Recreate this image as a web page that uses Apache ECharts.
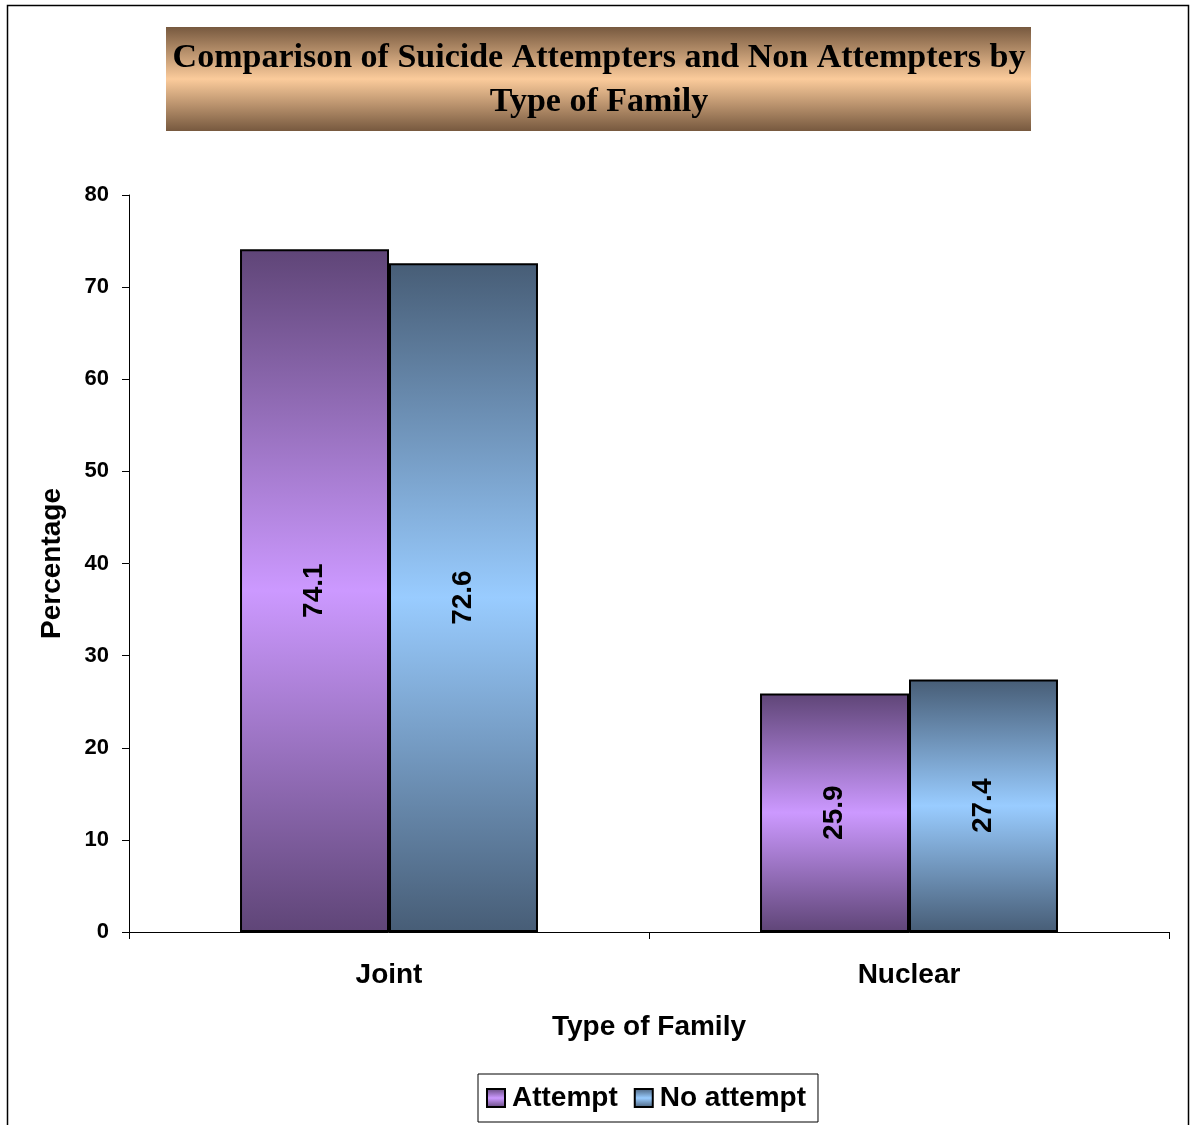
<!DOCTYPE html>
<html><head><meta charset="utf-8">
<script src="https://cdn.jsdelivr.net/npm/echarts@6/dist/echarts.min.js"></script>
<style>html,body{margin:0;padding:0;background:#fff}#c{width:1191px;height:1125px}</style>
</head><body><div id="c"></div>
<script>
const categories = ['Joint', 'Nuclear'];
const attempt = [74.1, 25.9];
const noAttempt = [72.6, 27.4];
const yTicks = [0, 10, 20, 30, 40, 50, 60, 70, 80];

function grad(dark, light) {
  return new echarts.graphic.LinearGradient(0, 0, 0, 1, [
    {offset: 0, color: dark}, {offset: 0.5, color: light}, {offset: 1, color: dark}
  ]);
}
const purple = grad('#5f4577', '#cc99ff');
const blue = grad('#475d76', '#99ccff');
const SANS = '"Liberation Sans", Arial, sans-serif';

const chart = echarts.init(document.getElementById('c'));
const labelStyle = {
  show: true, position: 'inside', rotate: 90, color: '#000',
  fontFamily: SANS, fontWeight: 'bold', fontSize: 28,
  formatter: p => p.value.toFixed(1)
};
chart.setOption({
  animation: false,
  graphic: [
    {type: 'rect', shape: {x: 7.5, y: 5.5, width: 1181, height: 1130}, style: {fill: 'none', stroke: '#000', lineWidth: 1.5}, z: -1},
    {type: 'rect', shape: {x: 166, y: 27, width: 865, height: 104},
      style: {fill: new echarts.graphic.LinearGradient(0, 0, 0, 1, [
        {offset: 0, color: '#77593f'}, {offset: 0.5, color: '#fbcb9b'}, {offset: 1, color: '#77593f'}])}, z: -1},
    {type: 'text', x: 599, y: 80, style: {text: 'Comparison of Suicide Attempters and Non Attempters by\nType of Family',
      fill: '#000', font: 'bold 34px "Liberation Serif", "Times New Roman", serif', align: 'center', verticalAlign: 'middle', lineHeight: 44}}
  ],
  legend: {
    left: 478, top: 1074,
    padding: [10, 12, 10, 8],
    borderColor: '#000', borderWidth: 1,
    itemWidth: 18, itemHeight: 18, itemGap: 16,
    textStyle: {fontFamily: SANS, fontWeight: 'bold', fontSize: 28, color: '#000', padding: [0, 0, 0, 2]},
    icon: 'rect',
    itemStyle: {borderColor: '#000', borderWidth: 2},
    data: ['Attempt', 'No attempt']
  },
  grid: {left: 129, right: 22, top: 195, bottom: 193},
  xAxis: {
    type: 'category', data: categories,
    name: 'Type of Family', nameLocation: 'middle', nameGap: 81,
    nameTextStyle: {fontFamily: SANS, fontWeight: 'bold', fontSize: 28, color: '#000'},
    axisLine: {lineStyle: {color: '#000', width: 1}},
    axisTick: {show: true, length: 7, lineStyle: {color: '#000'}},
    axisLabel: {margin: 29, fontFamily: SANS, fontWeight: 'bold', fontSize: 28, color: '#000'}
  },
  yAxis: {
    type: 'value', min: 0, max: 80, interval: 10,
    name: 'Percentage', nameLocation: 'middle', nameGap: 63, nameRotate: 90,
    nameTextStyle: {fontFamily: SANS, fontWeight: 'bold', fontSize: 28, color: '#000'},
    axisLine: {show: true, lineStyle: {color: '#000', width: 1}},
    axisTick: {show: true, length: 7, lineStyle: {color: '#000'}},
    splitLine: {show: false},
    axisLabel: {margin: 20, fontFamily: SANS, fontWeight: 'bold', fontSize: 22, color: '#000',
      formatter: v => yTicks.includes(v) ? String(v) : ''}
  },
  series: [
    {name: 'Attempt', type: 'bar', data: attempt, barGap: '0%', barCategoryGap: '42.7%',
      itemStyle: {color: purple, borderColor: '#000', borderWidth: 2}, label: labelStyle},
    {name: 'No attempt', type: 'bar', data: noAttempt,
      itemStyle: {color: blue, borderColor: '#000', borderWidth: 2}, label: labelStyle}
  ]
});
</script></body></html>
